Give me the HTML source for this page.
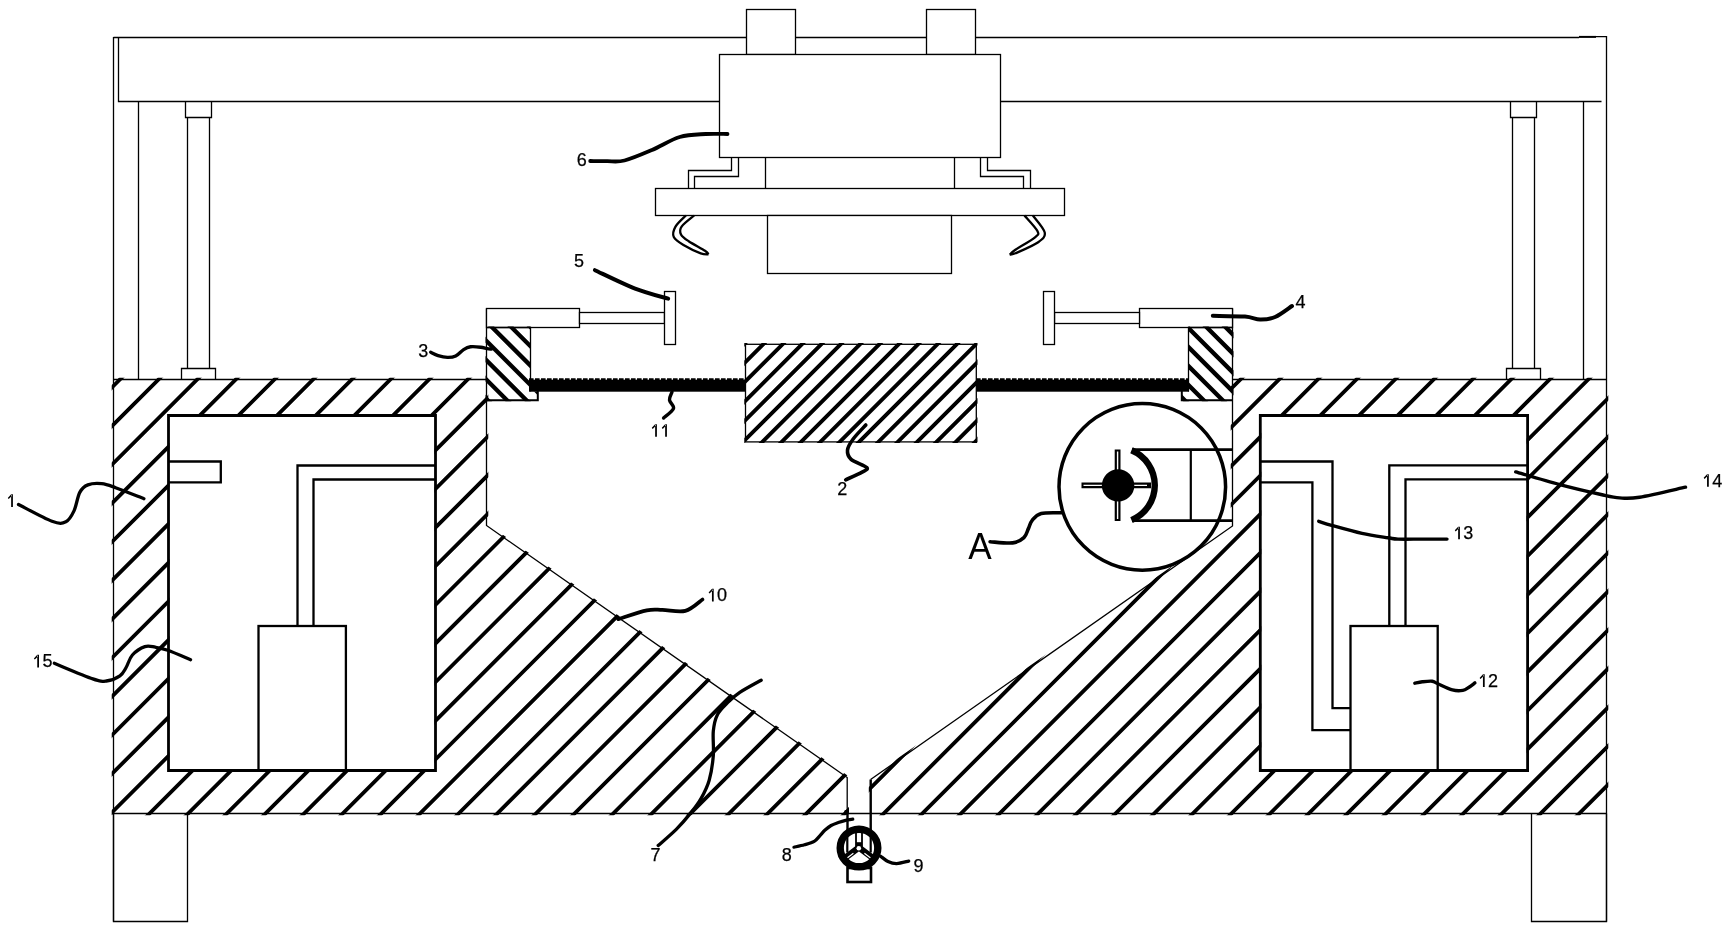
<!DOCTYPE html>
<html><head><meta charset="utf-8"><title>diagram</title>
<style>html,body{margin:0;padding:0;background:#fff;width:1730px;height:931px;overflow:hidden}svg{display:block}text{font-family:"Liberation Sans",sans-serif;fill:#000}.t{will-change:transform}</style>
</head><body>
<svg width="1730" height="931" viewBox="0 0 1730 931">
<rect width="1730" height="931" fill="#fff"/>
<defs>
<clipPath id="cb"><path clip-rule="evenodd" d="M111.7,377.7L488.3,377.7L488.3,524.56L849,776.55L849,815.3L868.8,815.3L868.8,778.57L1230.7,525.06L1230.7,377.7L1608.3,377.7L1608.3,815.3L111.7,815.3ZM169.5,416.5H434.5V769.5H169.5ZM1261.3,416.5H1526.6V769.5H1261.3Z"/></clipPath>
<clipPath id="c2"><rect x="744.3" y="343.1" width="233.2" height="100"/></clipPath>
<clipPath id="c3"><path d="M485.5,326.5H530.5V391.5H538V401.3H485.5Z"/></clipPath>
<clipPath id="c4"><path d="M1188.5,326.5H1233.5V401.3H1181.8V391.5H1188.5Z"/></clipPath>
</defs>
<g fill="none" stroke="#000" stroke-width="1.3"><path d="M113.5,37V921.5M1606.5,36V921.5"/><path d="M113.5,37.5H1579M1596,36.6H1606.5"/><path stroke-width="2" d="M1579,36.9H1596"/><path d="M118.5,37.5V101.5H1601.5"/><path d="M138.5,101.5V379.5M1583.5,101.5V379.5"/><path d="M185.5,101.5V117.5H211.5V101.5M187.5,117.5V368.5M209.5,117.5V368.5"/><path d="M181.5,379.5V368.5H215.5V379.5"/><path d="M1510.5,101.5V117.5H1536.5V101.5M1512.5,117.5V368.5M1534.5,117.5V368.5"/><path d="M1506.5,379.5V368.5H1540.5V379.5"/><path d="M113.5,813.5V921.5H187.5V813.5M1531.5,813.5V921.5H1606.5V813.5"/></g>
<g fill="#fff" stroke="#000" stroke-width="1.3"><rect x="746.5" y="9.5" width="49" height="45"/><rect x="926.5" y="9.5" width="49" height="45"/><rect x="719.5" y="54.5" width="281" height="103"/><path fill="none" d="M765.5,157.5V188.5M954.5,157.5V188.5"/><path fill="none" d="M731.5,157.5V170.5H688.5V188.5M738.5,157.5V176.5H694.5V188.5"/><path fill="none" d="M980.5,157.5V176.5H1023.5V188.5M987.5,157.5V170.5H1030.5V188.5"/><rect x="655.5" y="188.5" width="409" height="27"/><rect x="767.5" y="215.5" width="184" height="58"/></g><path fill="none" stroke="#000" stroke-width="2.3" stroke-linejoin="round" d="M685.9,215.5C684.17,217.35 677.52,223.02 675.5,226.6C673.48,230.18 672.32,233.85 673.8,237C675.28,240.15 679.92,242.78 684.4,245.5C688.88,248.22 696.67,251.83 700.7,253.3C704.73,254.77 707.28,254.13 708.6,254.3M708.6,254.3C708,253.7 708.32,252.88 705,250.7C701.68,248.52 692.7,243.92 688.7,241.2C684.7,238.48 682.18,236.83 681,234.4C679.82,231.97 679.4,229.75 681.6,226.6C683.8,223.45 692.1,217.35 694.2,215.5"/><path fill="none" stroke="#000" stroke-width="2.3" stroke-linejoin="round" d="M1032.9,215.5C1034.87,218.32 1043.82,227.95 1044.7,232.4C1045.58,236.85 1043.08,238.72 1038.2,242.2C1033.32,245.68 1020.17,251.22 1015.4,253.3C1010.63,255.38 1010.57,254.47 1009.6,254.7M1009.6,254.7C1010.57,253.88 1011.17,252.7 1015.4,249.8C1019.63,246.9 1031.33,240.43 1035,237.3C1038.67,234.17 1039.15,234.63 1037.4,231C1035.65,227.37 1026.65,218.08 1024.5,215.5"/>
<g clip-path="url(#cb)"><path stroke="#000" stroke-width="3.8" fill="none" d="M100,360.72L1620,-1159.28M100,399.36L1620,-1120.64M100,438L1620,-1082M100,476.64L1620,-1043.36M100,515.28L1620,-1004.72M100,553.92L1620,-966.08M100,592.56L1620,-927.44M100,631.2L1620,-888.8M100,669.84L1620,-850.16M100,708.48L1620,-811.52M100,747.12L1620,-772.88M100,785.76L1620,-734.24M100,824.4L1620,-695.6M100,863.04L1620,-656.96M100,901.68L1620,-618.32M100,940.32L1620,-579.68M100,978.96L1620,-541.04M100,1017.6L1620,-502.4M100,1056.24L1620,-463.76M100,1094.88L1620,-425.12M100,1133.52L1620,-386.48M100,1172.16L1620,-347.84M100,1210.8L1620,-309.2M100,1249.44L1620,-270.56M100,1288.08L1620,-231.92M100,1326.72L1620,-193.28M100,1365.36L1620,-154.64M100,1404L1620,-116M100,1442.64L1620,-77.36M100,1481.28L1620,-38.72M100,1519.92L1620,-0.08M100,1558.56L1620,38.56M100,1597.2L1620,77.2M100,1635.84L1620,115.84M100,1674.48L1620,154.48M100,1713.12L1620,193.12M100,1751.76L1620,231.76M100,1790.4L1620,270.4M100,1829.04L1620,309.04M100,1867.68L1620,347.68M100,1906.32L1620,386.32M100,1944.96L1620,424.96M100,1983.6L1620,463.6M100,2022.24L1620,502.24M100,2060.88L1620,540.88M100,2099.52L1620,579.52M100,2138.16L1620,618.16M100,2176.8L1620,656.8M100,2215.44L1620,695.44M100,2254.08L1620,734.08M100,2292.72L1620,772.72M100,2331.36L1620,811.36M100,2370L1620,850M100,2408.64L1620,888.64M100,2447.28L1620,927.28M100,2485.92L1620,965.92M100,2524.56L1620,1004.56M100,2563.2L1620,1043.2M100,2601.84L1620,1081.84M100,2640.48L1620,1120.48M100,2679.12L1620,1159.12M100,2717.76L1620,1197.76M100,2756.4L1620,1236.4M100,2795.04L1620,1275.04M100,2833.68L1620,1313.68M100,2872.32L1620,1352.32M100,2910.96L1620,1390.96M100,2949.6L1620,1429.6M100,2988.24L1620,1468.24"/></g>
<g fill="none" stroke="#000" stroke-width="1.3"><path d="M113.5,379.5H486.5M1232.5,379.5H1606.5"/><path d="M486.5,308.5V525.5L847.2,777.5V813.5"/><path d="M1232.5,308.5V526L870.6,779.5"/><path d="M113.5,813.5H1606.5"/></g><path fill="none" stroke="#000" stroke-width="2.4" d="M847.5,813V832M870.7,779.5V832"/><circle cx="846.5" cy="812.2" r="2.4" fill="#000"/><g fill="none" stroke="#000" stroke-width="2.8"><path d="M168.5,415.5H435.5V770.5H168.5Z"/><path d="M1260.3,415.5H1527.6V770.5H1260.3Z"/></g><g fill="none" stroke="#000" stroke-width="2.3"><path d="M168.5,461.5H220.8V482.3H168.5"/><path d="M435.5,465.5H297.5V626M435.5,479.5H313.5V626"/><rect x="258.5" y="626" width="87.4" height="144.5"/><path d="M1260.3,461.5H1332.5V708.2H1350.5M1260.3,482.3H1312.4V730.2H1350.5"/><path d="M1527.6,465.3H1389.3V626M1527.6,479.3H1405.5V626"/><rect x="1350.5" y="626" width="87.2" height="144.5"/></g>
<g fill="#fff" stroke="#000" stroke-width="1.3"><rect x="486.5" y="308.5" width="93" height="19"/><rect x="579.5" y="312.5" width="85" height="11"/><rect x="664.5" y="291.5" width="11" height="53"/><rect x="1139.5" y="308.5" width="93" height="19"/><rect x="1054.5" y="312.5" width="85" height="11"/><rect x="1043.5" y="291.5" width="11" height="53"/></g><g clip-path="url(#c3)"><path stroke="#000" stroke-width="4.3" fill="none" d="M470,382.55L560,472.55M470,363.2L560,453.2M470,343.85L560,433.85M470,324.5L560,414.5M470,305.15L560,395.15M470,285.8L560,375.8M470,266.45L560,356.45M470,247.1L560,337.1"/></g><g clip-path="url(#c4)"><path stroke="#000" stroke-width="4.3" fill="none" d="M1170,385.6L1250,465.6M1170,366.6L1250,446.6M1170,347.6L1250,427.6M1170,328.6L1250,408.6M1170,309.6L1250,389.6M1170,290.6L1250,370.6M1170,271.6L1250,351.6M1170,252.6L1250,332.6"/></g><g fill="none" stroke="#000" stroke-width="1.3"><path d="M486.5,327.5H530.5V391.5M1232.5,327.5H1188.5V391.5"/><path stroke-width="2" d="M486.5,400.3H537.8V391M1232.5,400.3H1181.8V391"/></g><rect x="529" y="379.7" width="217" height="12" fill="#000"/><rect x="976" y="379.7" width="213" height="12" fill="#000"/><path stroke="#000" stroke-width="1.6" stroke-dasharray="4.6 1.4" fill="none" d="M529,379.1H746M976,379.1H1189"/><rect x="745.5" y="344.3" width="230.8" height="97.6" fill="#fff" stroke="#000" stroke-width="1.3"/><g clip-path="url(#c2)"><path stroke="#000" stroke-width="3.9" fill="none" d="M730,338.8L990,78.8M730,358.15L990,98.15M730,377.5L990,117.5M730,396.85L990,136.85M730,416.2L990,156.2M730,435.55L990,175.55M730,454.9L990,194.9M730,474.25L990,214.25M730,493.6L990,233.6M730,512.95L990,252.95M730,532.3L990,272.3M730,551.65L990,291.65M730,571L990,311M730,590.35L990,330.35M730,609.7L990,349.7M730,629.05L990,369.05M730,648.4L990,388.4M730,667.75L990,407.75M730,687.1L990,427.1M730,706.45L990,446.45M730,725.8L990,465.8M730,745.15L990,485.15M730,764.5L990,504.5M730,783.85L990,523.85M730,803.2L990,543.2M730,822.55L990,562.55M730,841.9L990,581.9M730,861.25L990,601.25M730,880.6L990,620.6M730,899.95L990,639.95M730,919.3L990,659.3M730,938.65L990,678.65M730,958L990,698M730,977.35L990,717.35M730,996.7L990,736.7M730,1016.05L990,756.05M730,1035.4L990,775.4M730,1054.75L990,794.75M730,1074.1L990,814.1M730,1093.45L990,833.45M730,1112.8L990,852.8M730,1132.15L990,872.15M730,1151.5L990,891.5"/></g>
<circle cx="1142.3" cy="486.9" r="83.3" fill="none" stroke="#000" stroke-width="3.5"/><path fill="none" stroke="#000" stroke-width="2.8" d="M1132,449.6H1232.5M1132,520.6H1232.5"/><path fill="none" stroke="#000" stroke-width="2.2" d="M1190.8,449.6V520.6"/><path fill="none" stroke="#000" stroke-width="6.4" d="M1131.5,450.3A37.8,37.8 0 0 1 1131.5,520.1"/><path stroke="#000" stroke-width="5.8" fill="none" d="M1081.5,485.4H1151M1117.6,449.5V521"/><path stroke="#fff" stroke-width="1.4" fill="none" d="M1083.5,485.4H1147M1117.6,451.5V519"/><circle cx="1118.1" cy="485.4" r="16.2" fill="#000"/>
<rect x="847.5" y="868" width="23.5" height="14" fill="none" stroke="#000" stroke-width="2.6"/><circle cx="859" cy="848" r="18.8" fill="#fff"/><path stroke="#000" stroke-width="2.2" fill="none" d="M847.3,830V852.5M870.7,830V852.5"/><path stroke="#000" stroke-width="6.4" fill="none" d="M858.9,847.5L844.6,858.3M858.9,847.5L873.2,858.3"/><rect x="855.1" y="830" width="7.8" height="19" fill="#000"/><rect x="856.9" y="831" width="4.2" height="11.2" fill="#fff"/><path stroke="#fff" stroke-width="1.2" fill="none" d="M846.5,858.6L853.4,853.3M864.4,853.3L871.3,858.6"/><circle cx="858.8" cy="848.3" r="2.3" fill="#fff"/><circle cx="859" cy="848" r="18.8" fill="none" stroke="#000" stroke-width="7.4"/>
<g fill="none" stroke="#000" stroke-linecap="round" stroke-linejoin="round"><path stroke-width="3.3" d="M18.5,504.5C24.08,507.3 44.1,518.42 52,521.3C59.9,524.18 62.23,523.53 65.9,521.8C69.57,520.07 71.68,515.8 74,510.9C76.32,506 77.48,496.73 79.8,492.4C82.12,488.07 84.25,486.35 87.9,484.9C91.55,483.45 97.08,483.23 101.7,483.7C106.32,484.17 108.57,485.2 115.6,487.7C122.63,490.2 139.18,496.87 143.9,498.7"/><path stroke-width="3.3" d="M54.3,663.3C60.72,665.9 84.12,675.95 92.8,678.9C101.48,681.85 101.88,681.52 106.4,681C110.92,680.48 116.62,678.05 119.9,675.8C123.18,673.55 124.02,670.97 126.1,667.5C128.18,664.03 129.27,658.48 132.4,655C135.53,651.52 141.08,647.9 144.9,646.6C148.72,645.3 151.5,646.58 155.3,647.2C159.1,647.82 161.82,648.22 167.7,650.3C173.58,652.38 186.78,658.13 190.6,659.7"/><path stroke-width="3.8" d="M590.2,161C593,161.03 601.28,161.28 607,161.2C612.72,161.12 617,162.37 624.5,160.5C632,158.63 642.8,153.92 652,150C661.2,146.08 670.75,139.67 679.7,137C688.65,134.33 697.73,134.5 705.7,134C713.67,133.5 723.87,134 727.5,134"/><path stroke-width="4" d="M594.9,270.2C601.6,273.27 622.88,283.85 635.1,288.6C647.32,293.35 662.68,297.02 668.2,298.7"/><path stroke-width="3.4" d="M430.7,352.3C431.93,352.85 435.32,354.75 438.1,355.6C440.88,356.45 444.47,357.33 447.4,357.4C450.33,357.47 453,357.3 455.7,356C458.4,354.7 461.13,351.13 463.6,349.6C466.07,348.07 467.65,347.2 470.5,346.8C473.35,346.4 477.93,346.9 480.7,347.2C483.47,347.5 485.33,348.28 487.1,348.6C488.87,348.92 490.6,349.02 491.3,349.1"/><path stroke-width="3.4" d="M663.6,418C665.25,416.42 672.52,411.5 673.5,408.5C674.48,405.5 669.75,402.75 669.5,400C669.25,397.25 671.58,393.33 672,392"/><path stroke-width="3.6" d="M865.8,425C863.67,427.37 856.05,435.02 853,439.2C849.95,443.38 847.82,446.75 847.5,450.1C847.18,453.45 847.9,456.4 851.1,459.3C854.3,462.2 864.87,465.37 866.7,467.5C868.53,469.63 865.6,470.05 862.1,472.1C858.6,474.15 848.43,478.52 845.7,479.8"/><path stroke-width="4" d="M1212.8,315.8C1218.17,315.93 1237.12,315.98 1245,316.6C1252.88,317.22 1255.08,319.43 1260.1,319.5C1265.12,319.57 1269.78,319.25 1275.1,317C1280.42,314.75 1289.18,307.83 1292,306"/><path stroke-width="3.6" d="M990.1,541.7C993.85,541.9 1006.97,543.58 1012.6,542.9C1018.23,542.22 1021.27,539.98 1023.9,537.6C1026.53,535.22 1027.02,531.48 1028.4,528.6C1029.78,525.72 1030.07,522.82 1032.2,520.3C1034.33,517.78 1036.32,514.75 1041.2,513.5C1046.08,512.25 1058.12,512.92 1061.5,512.8"/><path stroke-width="3.7" d="M618.2,619.2C622.97,617.73 639.43,611.95 646.8,610.4C654.17,608.85 655.98,609.82 662.4,609.9C668.82,609.98 678.62,612.63 685.3,610.9C691.98,609.17 699.63,601.4 702.5,599.5"/><path stroke-width="3.3" d="M658.2,845.5C661.25,842.77 671.07,834.53 676.5,829.1C681.93,823.67 686.72,817.98 690.8,812.9C694.88,807.82 697.93,804.05 701,798.6C704.07,793.15 707.15,787.35 709.2,780.2C711.25,773.05 712.62,763.87 713.3,755.7C713.98,747.53 712.63,738 713.3,731.2C713.97,724.4 714.92,719.65 717.3,714.9C719.68,710.15 723.85,706.45 727.6,702.7C731.35,698.95 734.2,696.15 739.8,692.4C745.4,688.65 757.63,682.23 761.2,680.2"/><path stroke-width="3.2" d="M793.9,847.2C795.67,846.8 801.12,845.77 804.5,844.8C807.88,843.83 811.62,842.93 814.2,841.4C816.78,839.87 818.23,837.45 820,835.6C821.77,833.75 822.95,831.98 824.8,830.3C826.65,828.62 828.85,826.78 831.1,825.5C833.35,824.22 835.88,823.45 838.3,822.6C840.72,821.75 843.18,820.97 845.6,820.4C848.02,819.83 851.6,819.4 852.8,819.2"/><path stroke-width="3.3" d="M880.7,856.3C881.92,857.17 885.35,860.28 888,861.5C890.65,862.72 893.15,863.67 896.6,863.6C900.05,863.53 906.68,861.52 908.7,861.1"/><path stroke-width="3.4" d="M1318.7,521.3C1321,522.02 1325.28,523.58 1332.5,525.6C1339.72,527.62 1352.75,531.37 1362,533.4C1371.25,535.43 1382,536.85 1388,537.8C1394,538.75 1392.33,538.88 1398,539.1C1403.67,539.32 1413.83,539.1 1422,539.1C1430.17,539.1 1442.83,539.1 1447,539.1"/><path stroke-width="3.4" d="M1515.7,471.9C1523.05,474.02 1545.58,480.83 1559.8,484.6C1574.02,488.37 1591.03,492.28 1601,494.5C1610.97,496.72 1613.17,497.45 1619.6,497.9C1626.03,498.35 1628.62,498.98 1639.6,497.2C1650.58,495.42 1677.85,488.87 1685.5,487.2"/><path stroke-width="3.4" d="M1414.8,683.2C1416.05,682.97 1419.4,682.13 1422.3,681.8C1425.2,681.47 1429.68,680.92 1432.2,681.2C1434.72,681.48 1434.03,682.05 1437.4,683.5C1440.77,684.95 1448.17,688.75 1452.4,689.9C1456.63,691.05 1460.1,690.8 1462.8,690.4C1465.5,690 1466.58,688.75 1468.6,687.5C1470.62,686.25 1473.85,683.67 1474.9,682.9"/></g>
<g class="t" font-size="18" stroke="#000" stroke-width="0.25"><text x="42.41" y="667.4">5</text><text x="576.8" y="165.5">6</text><text x="574.1" y="267.3">5</text><text x="418.3" y="357.2">3</text><text x="837.3" y="495.3">2</text><text x="1295.6" y="307.5">4</text><text x="717.11" y="601.4">0</text><text x="650.6" y="861.3">7</text><text x="781.8" y="861.3">8</text><text x="913.4" y="871.7">9</text><text x="1463.31" y="539.3">3</text><text x="1712.21" y="486.8">4</text><text x="1488.11" y="686.9">2</text><text transform="translate(968.2,558.8) scale(0.95,1)" font-size="37" stroke-width="0">A</text></g><path fill="#000" d="M11.15,506.9H12.9V494.3H11.15ZM11.15,494.3L11.9,495.9L8.7,499L7.8,497.9ZM37.25,667.4H39V654.8H37.25ZM37.25,654.8L38,656.4L34.8,659.5L33.9,658.4ZM655.15,436.8H656.9V424.2H655.15ZM655.15,424.2L655.9,425.8L652.7,428.9L651.8,427.8ZM665.16,436.8H666.91V424.2H665.16ZM665.16,424.2L665.91,425.8L662.71,428.9L661.81,427.8ZM711.95,601.4H713.7V588.8H711.95ZM711.95,588.8L712.7,590.4L709.5,593.5L708.6,592.4ZM1458.15,539.3H1459.9V526.7H1458.15ZM1458.15,526.7L1458.9,528.3L1455.7,531.4L1454.8,530.3ZM1707.05,486.8H1708.8V474.2H1707.05ZM1707.05,474.2L1707.8,475.8L1704.6,478.9L1703.7,477.8ZM1482.95,686.9H1484.7V674.3H1482.95ZM1482.95,674.3L1483.7,675.9L1480.5,679L1479.6,677.9Z"/>
</svg></body></html>
